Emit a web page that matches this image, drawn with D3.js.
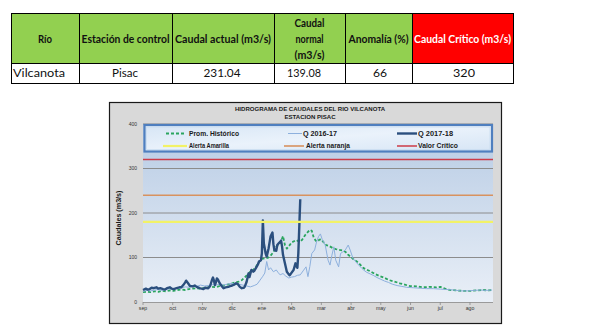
<!DOCTYPE html>
<html><head><meta charset="utf-8">
<script src="https://cdn.jsdelivr.net/npm/d3@7/dist/d3.min.js"></script>
<style>body{margin:0;background:#fff}svg{display:block}</style>
</head><body>
<svg id="c" width="604" height="332"></svg>
<script>
// ---------------- DATA ----------------
const tableHeaders = [["Río"],["Estación de control"],["Caudal actual (m3/s)"],["Caudal","normal","(m3/s)"],["Anomalía (%)"],["Caudal Crítico (m3/s)"]];
const tableRow = ["Vilcanota","Pisac","231.04","139.08","66","320"];

const chartTitle = ["HIDROGRAMA DE CAUDALES  DEL RIO VILCANOTA","ESTACION PISAC"];
const yLabel = "Caudales (m3/s)";
const months = ["sep","oct","nov","dic","ene","feb","mar","abr","may","jun","jul","ago"];
const yTicks = [0,100,200,300,400];

// [day since 1 Sep, m3/s]
const promHist = [[0,22],[4,23],[8,22],[12,24],[16,23],[20,25],[24,24],[28,26],[32,25],[36,27],[40,28],[44,27],[48,29],[52,30],[56,31],[60,30],[64,32],[68,33],[72,34],[76,33],[80,36],[84,37],[88,39],[92,41],[96,44],[100,46],[103,49],[106,55],[109,62],[112,68],[115,72],[118,80],[121,90],[124,97],[127,98],[130,99],[133,104],[136,112],[139,124],[142,130],[144,137],[146,148],[148,128],[150,120],[152,125],[155,134],[158,137],[160,139],[163,135],[166,140],[169,150],[171,155],[174,162],[176,160],[178,145],[180,138],[182,136],[184,140],[186,141],[188,135],[191,128],[194,126],[198,121],[201,119],[205,117],[208,116],[211,113],[214,106],[217,101],[220,95],[223,91],[226,85],[230,76],[234,72],[238,68],[242,63],[247,58],[252,54],[257,49],[262,46],[268,42],[273,39],[278,36],[285,35],[292,33],[299,34],[306,33],[310,34],[315,30],[320,27],[327,26],[334,25],[341,25],[348,26],[355,27],[360,26],[364,27]];

const q1617 = [[0,24],[4,26],[8,25],[12,27],[16,28],[20,26],[24,28],[28,30],[32,29],[36,32],[40,31],[44,34],[48,33],[52,36],[56,35],[60,38],[64,36],[68,37],[72,39],[76,38],[80,40],[84,38],[88,40],[92,42],[96,41],[100,40],[104,38],[108,36],[112,34],[116,37],[119,40],[122,49],[125,58],[127,65],[129,91],[131,72],[133,77],[136,68],[139,72],[141,66],[143,61],[146,64],[149,58],[152,54],[155,56],[158,57],[161,60],[164,61],[167,70],[170,79],[172,57],[174,80],[176,109],[179,117],[181,135],[183,147],[185,153],[187,140],[190,128],[193,94],[195,83],[197,105],[199,124],[201,94],[204,79],[206,109],[208,112],[211,117],[214,128],[216,117],[219,98],[222,90],[225,83],[228,76],[230,72],[233,67],[237,63],[240,60],[244,55],[248,51],[252,47],[256,44],[260,40],[265,37],[270,35],[275,33],[282,32],[289,31],[296,30],[303,30],[310,29],[317,28],[324,27],[331,25],[338,25],[345,26],[352,27],[358,26],[364,27]];

const q1718 = [[0,27],[3,30],[5,28],[7,29],[9,32],[11,31],[14,33],[16,30],[18,31],[21,29],[23,28],[25,31],[28,33],[30,30],[32,29],[35,31],[38,33],[40,33],[42,38],[44,44],[45,48],[47,42],[49,36],[52,35],[54,37],[56,34],[59,31],[61,30],[63,29],[65,32],[68,31],[70,36],[72,50],[73,55],[74,48],[75,38],[76,44],[77,53],[78,51],[80,42],[82,36],[84,31],[86,33],[89,34],[91,36],[93,37],[95,39],[97,42],[99,40],[101,34],[103,31],[105,32],[106,34],[108,45],[110,64],[111,56],[113,72],[115,68],[116,70],[118,77],[120,85],[121,91],[123,94],[124,110],[125,183],[126,132],[128,108],[129,102],[131,121],[133,147],[135,156],[136,130],[137,117],[139,115],[140,128],[142,133],[143,135],[144,138],[145,125],[146,106],[148,87],[150,68],[152,62],[153,60],[155,66],[157,72],[159,87],[160,80],[161,77],[162,110],[163,170],[164,231]];

const alertNames = ["Alerta Amarilla","Alerta naranja","Valor Crítico"];
const alertValues = [180,240,320];
const seriesNames = ["Prom. Histórico","Q 2016-17","Q 2017-18"];

// ---------------- STYLE / LAYOUT ----------------
const seriesStyle = [
  {color:"#2aa55f", width:1.8, dash:"3,2"},
  {color:"#8db0dd", width:1, dash:null},
  {color:"#2b4f7e", width:2.4, dash:null}
];
const alertStyle = [
  {color:"#f2f266", width:2.2},
  {color:"#d8925f", width:1.6},
  {color:"#cc3b47", width:1.5}
];

const svg = d3.select("#c");

// ---------- TABLE ----------
const colEdges = [11,79,172,274,345,412,513];
const hdrTop = 13, hdrBot = 63, rowBot = 83;
const hdrWidths = [[14],[88],[96],[30,28,30],[60],[97]];
const rowWidths = [52,26,37,34,14,22];
const rowCenters = [null,125,222,304,380,464];
const tFont = "Lato, 'Noto Sans', sans-serif";

const tbl = svg.append("g");
tableHeaders.forEach((lines,i)=>{
  const x0 = colEdges[i], x1 = colEdges[i+1];
  tbl.append("rect").attr("x",x0).attr("y",hdrTop).attr("width",x1-x0).attr("height",hdrBot-hdrTop)
     .attr("fill", i===5 ? "#ff0000" : "#92d050");
  const cy = (hdrTop+hdrBot)/2 + 1;
  lines.forEach((ln,j)=>{
    const yy = cy + (j-(lines.length-1)/2)*16.3 + 4;
    tbl.append("text").attr("x",(x0+x1)/2).attr("y",yy).attr("text-anchor","middle")
      .attr("font-family",tFont).attr("font-weight","bold").attr("font-size",12)
      .attr("fill", i===5 ? "#ffffff" : "#111")
      .attr("textLength",hdrWidths[i][j]).attr("lengthAdjust","spacingAndGlyphs").text(ln);
  });
});
tableRow.forEach((v,i)=>{
  const x0 = colEdges[i], x1 = colEdges[i+1];
  const t = tbl.append("text").attr("y",77).attr("font-family",tFont).attr("font-size",12).attr("fill","#111")
    .attr("textLength",rowWidths[i]).attr("lengthAdjust","spacingAndGlyphs").text(v);
  if(i===0) t.attr("x",x0+2).attr("text-anchor","start");
  else t.attr("x",rowCenters[i]).attr("text-anchor","middle");
});
// grid borders
const gl = tbl.append("g").attr("stroke","#000").attr("stroke-width",1).attr("shape-rendering","crispEdges");
[hdrTop,hdrBot,rowBot].forEach(y=>gl.append("line").attr("x1",colEdges[0]).attr("x2",colEdges[6]).attr("y1",y+0.5).attr("y2",y+0.5));
colEdges.forEach(x=>gl.append("line").attr("x1",x+0.5).attr("x2",x+0.5).attr("y1",hdrTop).attr("y2",rowBot+1));

// ---------- CHART ----------
const frame = {x:109, y:102, w:392, h:221};
const plot = {l:143, r:493, t:124, b:302};
const chFont = "'Liberation Sans', Arial, sans-serif";

const defs = svg.append("defs");
const grad = defs.append("linearGradient").attr("id","pbg").attr("x1",0).attr("y1",0).attr("x2",0).attr("y2",1);
grad.append("stop").attr("offset","0%").attr("stop-color","#b7cbe4");
grad.append("stop").attr("offset","100%").attr("stop-color","#e9eff7");
const lgrad = defs.append("linearGradient").attr("id","lbg").attr("x1",0).attr("y1",0).attr("x2",1).attr("y2",1);
lgrad.append("stop").attr("offset","0%").attr("stop-color","#d6e5f5");
lgrad.append("stop").attr("offset","50%").attr("stop-color","#eaf2fb");
lgrad.append("stop").attr("offset","100%").attr("stop-color","#d6e5f5");

const ch = svg.append("g");
ch.append("rect").attr("x",frame.x+0.5).attr("y",frame.y+0.5).attr("width",frame.w).attr("height",frame.h)
  .attr("fill","#d9d9d9").attr("stroke","#1a1a1a").attr("stroke-width",1.2);

const x = d3.scaleLinear().domain([0,365]).range([plot.l,plot.r]);
const y = d3.scaleLinear().domain([0,400]).range([plot.b,plot.t]);

ch.append("rect").attr("x",plot.l).attr("y",plot.t).attr("width",plot.r-plot.l).attr("height",plot.b-plot.t)
  .attr("fill","url(#pbg)");

// gridlines
ch.append("g").selectAll("line").data(yTicks.filter(d=>d>0)).join("line")
  .attr("x1",plot.l).attr("x2",plot.r).attr("y1",d=>y(d)).attr("y2",d=>y(d))
  .attr("stroke","#8c8c8c").attr("stroke-width",1);

// y tick labels
ch.append("g").selectAll("text").data(yTicks).join("text")
  .attr("x",137).attr("y",d=>y(d)+1.8).attr("text-anchor","end")
  .attr("font-family",chFont).attr("font-size",5).attr("fill","#333").text(d=>d);

// x axis
const tickStep = 31;
const xa = ch.append("g");
xa.append("line").attr("x1",plot.l).attr("x2",plot.r).attr("y1",plot.b+0.5).attr("y2",plot.b+0.5).attr("stroke","#9a9a9a").attr("stroke-width",1);
xa.selectAll("line.t").data(months).join("line").attr("class","t")
  .attr("x1",(d,i)=>x(i*tickStep)).attr("x2",(d,i)=>x(i*tickStep)).attr("y1",plot.b).attr("y2",plot.b+3)
  .attr("stroke","#8a8a8a").attr("stroke-width",0.8);
xa.selectAll("text").data(months).join("text")
  .attr("x",(d,i)=>x(i*tickStep)).attr("y",310).attr("text-anchor","middle")
  .attr("font-family",chFont).attr("font-size",5.2).attr("fill","#333").text(d=>d);

// series
const line = d3.line().x(d=>x(d[0])).y(d=>y(d[1]));
[promHist,q1617,q1718].forEach((s,i)=>{
  const st = seriesStyle[i];
  ch.append("path").datum(s).attr("d",line).attr("fill","none")
    .attr("stroke",st.color).attr("stroke-width",st.width)
    .attr("stroke-dasharray",st.dash).attr("stroke-linejoin","round");
});
// alert lines
alertValues.forEach((v,i)=>{
  ch.append("line").attr("x1",plot.l).attr("x2",plot.r).attr("y1",y(v)).attr("y2",y(v))
    .attr("stroke",alertStyle[i].color).attr("stroke-width",alertStyle[i].width);
});

// title
chartTitle.forEach((t,i)=>{
  ch.append("text").attr("x",310).attr("y",110.5+i*8).attr("text-anchor","middle")
    .attr("font-family",chFont).attr("font-weight","bold").attr("font-size",6)
    .attr("fill","#1a1a1a").attr("textLength",i===0?150:51).attr("lengthAdjust","spacingAndGlyphs").text(t);
});

// y label
ch.append("text").attr("transform","translate(120.5,218) rotate(-90)").attr("text-anchor","middle")
  .attr("font-family",chFont).attr("font-weight","bold").attr("font-size",6.5).attr("fill","#1a1a1a")
  .attr("textLength",55).attr("lengthAdjust","spacingAndGlyphs").text(yLabel);

// legend
const lg = ch.append("g");
lg.append("rect").attr("x",144.5).attr("y",125).attr("width",347.5).attr("height",26.5)
  .attr("fill","url(#lbg)").attr("stroke","#4f7fbf").attr("stroke-width",2.2);
lg.append("rect").attr("x",146.5).attr("y",127).attr("width",343.5).attr("height",22.5)
  .attr("fill","none").attr("stroke","#c9dcf1").attr("stroke-width",0.8);
const legItems = [
  {name:seriesNames[0], st:seriesStyle[0], x0:166, x1:186, tx:189, row:0, tw:50},
  {name:seriesNames[1], st:seriesStyle[1], x0:288, x1:302, tx:303, row:0, tw:34},
  {name:seriesNames[2], st:seriesStyle[2], x0:397, x1:417, tx:418, row:0, tw:35},
  {name:alertNames[0], st:alertStyle[0], x0:163, x1:187, tx:189, row:1, tw:40},
  {name:alertNames[1], st:alertStyle[1], x0:284, x1:304, tx:306, row:1, tw:44},
  {name:alertNames[2], st:alertStyle[2], x0:397, x1:417, tx:418, row:1, tw:40}
];
legItems.forEach(it=>{
  const yy = it.row===0 ? 133.5 : 146;
  lg.append("line").attr("x1",it.x0).attr("x2",it.x1).attr("y1",yy).attr("y2",yy)
    .attr("stroke",it.st.color).attr("stroke-width",it.st.width).attr("stroke-dasharray",it.st.dash||null);
  lg.append("text").attr("x",it.tx).attr("y",yy+2.3).attr("font-family",chFont).attr("font-weight","bold")
    .attr("font-size",6.5).attr("fill","#1a1a1a").attr("textLength",it.tw).attr("lengthAdjust","spacingAndGlyphs").text(it.name);
});
</script>
</body></html>
